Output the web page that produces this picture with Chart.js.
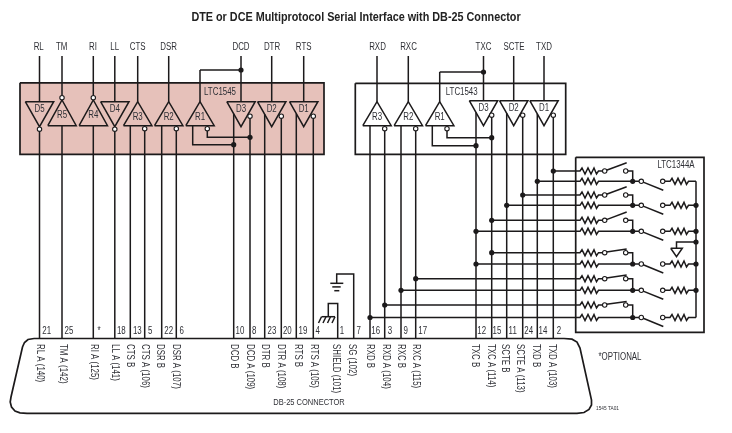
<!DOCTYPE html>
<html>
<head>
<meta charset="utf-8">
<title>DTE or DCE Multiprotocol Serial Interface with DB-25 Connector</title>
<script src="https://cdn.jsdelivr.net/npm/chart.js@4/dist/chart.umd.min.js"></script>
<style>
  html, body { margin: 0; padding: 0; background: #fff; }
  canvas { display: block; }
</style>
</head>
<body>
<canvas id="chart" width="732" height="433"></canvas>
<script>
// The schematic is plotted on a 732 x 433 linear grid, y running downward
const INK = '#1c1a1b';
const TEXT = '#2f3036';
const FONT = '"Liberation Sans", sans-serif';
const NARROW = 0.79;

// LTC1545 drivers and receivers
const drv45Names = ['D5', 'D4', 'D3', 'D2', 'D1'];
const drv45X = [39.5, 114.8, 241, 271.7, 303.7];
const drv45Out = [null, null, 233.7, 264.7, 296.3];
const drv45Bubble = [null, null, 250, 281.3, 313.3];
const rcv45Names = ['R3', 'R2', 'R1'];
const rcv45X = [137.7, 168.7, 200];
const rcv45Out = [130.3, 161.7, 192.7];
const rcv45Bubble = [144.7, 176.3, 207.3];
const inv45Names = ['R5', 'R4'];
const inv45X = [62, 93.3];

// LTC1543 drivers and receivers
const drv43Names = ['D3', 'D2', 'D1'];
const drv43X = [483.5, 513.7, 544];
const drv43Out = [476, 506.7, 537.3];
const drv43Bubble = [491.7, 522.7, 553.3];
const rcv43Names = ['R3', 'R2', 'R1'];
const rcv43X = [377, 408.3, 439.7];
const rcv43Out = [370, 401, 432.3];
const rcv43Bubble = [384.7, 415.7, 447];

// LTC1344A resistor and switch rows
const swRowY = [171, 195, 220.3, 252.7, 278.7, 305];
const linkRowY = [181.3, 205.3, 231.3, 264, 290.3, 317.5];
const swFeedX = [553.3, 522.7, 491.7, 491.7, 415.7, 384.7];
const linkFeedX = [537.3, 506.7, 476, 476, 401, 370];
const armLift = [8.3, 8.3, 8.3, 3.6, 3.6, 3.6];
const zigzag = [[0, 0], [2, -3], [5, 3], [8, -3], [11, 3], [14, -3], [16.5, 3], [18.5, 0]];

// Loose wires and junctions
const extraWires = [
  [[200, 70], [241, 70]],
  [[192.7, 126], [192.7, 144.7], [233.7, 144.7]],
  [[207.3, 131], [207.3, 137.3], [250, 137.3]],
  [[439.7, 72], [483.5, 72]],
  [[432.3, 126], [432.3, 145.7], [476, 145.7]],
  [[447, 131], [447, 137.7], [491.7, 137.7]],
  [[337.7, 338.5], [337.7, 303.5], [328.3, 303.5], [328.3, 316.7]],
  [[321.5, 316.7], [335, 316.7]],
  [[321.5, 316.7], [318.5, 323]],
  [[326, 316.7], [323, 323]],
  [[330.5, 316.7], [327.5, 323]],
  [[335, 316.7], [332, 323]],
  [[353.7, 338.5], [353.7, 274], [336.7, 274], [336.7, 283.3]],
  [[330.3, 283.3], [343.3, 283.3]],
  [[332.3, 286.9], [340.7, 286.9]],
  [[334.3, 290.7], [339.3, 290.7]],
  [[696, 181.3], [696, 317.5]],
  [[696, 242], [676.5, 242], [676.5, 248.3]],
  [[670.7, 248.3], [682.3, 248.3], [676.5, 256.7], [670.7, 248.3]]
];
const junctions = [
  [241, 70], [233.7, 144.7], [250, 137.3], [483.5, 72], [476, 145.7], [491.7, 137.7],
  [696, 205.3], [696, 231.3], [696, 242], [696, 264], [696, 290.3]
];

// Boxes: left, top, right, bottom
const box1545 = [20, 82.8, 324, 154.3];
const box1543 = [355.3, 83.3, 565.7, 154.3];
const box1344 = [575.7, 157.3, 704, 332.3];

// DB-25 shell outline
const shellOutline = [
  [34, 338.5], [28, 339.5], [24.5, 342.5], [22.5, 347], [11, 397], [10.2, 402], [11.5, 407], [15, 411],
  [20, 412.8], [27, 413.3], [577, 413.3], [584, 412.5], [589, 409.5], [591.5, 405], [591.5, 400],
  [580, 348], [577, 342], [572, 339.2], [564, 338.5], [34, 338.5]
];

// Text
const topNames = ['RL', 'TM', 'RI', 'LL', 'CTS', 'DSR', 'DCD', 'DTR', 'RTS', 'RXD', 'RXC', 'TXC', 'SCTE', 'TXD'];
const topNameX = [38.7, 61.7, 93, 114.7, 137.7, 168.7, 241, 272, 303.7, 377.5, 408.5, 483.5, 514, 544];
const pinNames = ['21', '25', '*', '18', '13', '5', '22', '6', '10', '8', '23', '20', '19', '4', '1', '7', '16', '3', '9', '17', '12', '15', '11', '24', '14', '2'];
const pinNameX = [46.7, 69, 99, 121.3, 137.3, 150.3, 168.7, 181.7, 240, 254.3, 272, 287.3, 303, 317.7, 342, 358.7, 375.7, 390, 405.7, 422.7, 481.7, 497, 512.7, 528.7, 543, 559];
const signalNames = ['RL A (140)', 'TM A (142)', 'RI A (125)', 'LL A (141)', 'CTS B', 'CTS A (106)', 'DSR B', 'DSR A (107)', 'DCD B', 'DCD A (109)', 'DTR B', 'DTR A (108)', 'RTS B', 'RTS A (105)', 'SHIELD (101)', 'SG (102)', 'RXD B', 'RXD A (104)', 'RXC B', 'RXC A (115)', 'TXC B', 'TXC A (114)', 'SCTE B', 'SCTE A (113)', 'TXD B', 'TXD A (103)'];
const signalNameX = [40, 62.7, 93.3, 114.3, 130, 145, 160, 176, 234, 249.3, 265, 280.7, 297.3, 314, 335.7, 351.7, 370, 385.3, 400.7, 415.7, 475, 490.7, 505, 520, 536, 551.7];

const datasets = [];
const dots = [];
const bubbles = [];
const labels = [];

function wire(points, extra) {
  datasets.push(Object.assign({
    data: points.map(p => ({ x: p[0], y: p[1] })),
    showLine: true,
    borderColor: INK,
    borderWidth: 1.5,
    pointRadius: 0,
    order: 2
  }, extra || {}));
}

function boxLines(b) {
  wire([[b[0], b[1]], [b[2], b[1]], [b[2], b[3]], [b[0], b[3]], [b[0], b[1]]], { borderWidth: 1.7 });
}

function addText(text, x, y, size, extra) {
  labels.push(Object.assign({ text, x, y, size }, extra || {}));
}

// Driver triangle points down, receiver triangle points up
function driver(name, x, top, outX, bubX) {
  wire([[x - 14.2, top], [x + 14.2, top], [x, top + 25], [x - 14.2, top]]);
  addText(name, x, top + 7.5, 10);
  if (outX != null) {
    wire([[outX, top + (outX - x + 14.2) * 1.76], [outX, 338.5]]);
    wire([[bubX, top + 15.5], [bubX, 338.5]]);
    bubbles.push([bubX, top + 14.5]);
  } else {
    wire([[x, top + 28], [x, 338.5]]);
    bubbles.push([x, top + 27.5]);
  }
}

function receiver(name, x, apex, base, outX, bubX) {
  wire([[x - 14.2, base], [x + 14.2, base], [x, apex], [x - 14.2, base]]);
  addText(name, x, apex + 15.5, 10);
  if (outX == null) {
    wire([[x, base], [x, 338.5]]);
    bubbles.push([x, apex - 2.3]);
    return;
  }
  bubbles.push([bubX, base + 3]);
  // R1 outputs are tied back to D3, they do not reach the connector
  if (name !== 'R1') {
    wire([[outX, base], [outX, 338.5]]);
    wire([[bubX, base + 5], [bubX, 338.5]]);
  }
}

// Boxes first: the pink one also gets a fill
wire([[box1545[0], box1545[1]], [box1545[2], box1545[1]]], {
  borderWidth: 0,
  fill: { value: box1545[3] },
  backgroundColor: '#e6c1ba',
  order: 9
});
boxLines(box1545);
boxLines(box1543);
boxLines(box1344);
wire(shellOutline, { borderWidth: 1.7 });

drv45Names.forEach((n, i) => driver(n, drv45X[i], 101.7, drv45Out[i], drv45Bubble[i]));
rcv45Names.forEach((n, i) => receiver(n, rcv45X[i], 101.7, 125.7, rcv45Out[i], rcv45Bubble[i]));
inv45Names.forEach((n, i) => receiver(n, inv45X[i], 100, 125.7, null, null));
drv43Names.forEach((n, i) => driver(n, drv43X[i], 100.7, drv43Out[i], drv43Bubble[i]));
rcv43Names.forEach((n, i) => receiver(n, rcv43X[i], 101.7, 125.7, rcv43Out[i], rcv43Bubble[i]));

// The top signal leads down into each gate
[39.5, 114.8, 137.7, 168.7, 241, 271.7, 303.7].forEach(x => wire([[x, 56], [x, 101.7]]));
[62, 93.3].forEach(x => wire([[x, 56], [x, 95.5]]));
wire([[200, 70], [200, 101.7]]);
[377, 408.3].forEach(x => wire([[x, 56], [x, 101.7]]));
[483.5, 513.7, 544].forEach(x => wire([[x, 56], [x, 100.7]]));
wire([[439.7, 72], [439.7, 101.7]]);

// Resistor and switch rows of the LTC1344A
function resistor(x, y) {
  return zigzag.map(p => [x + p[0], y + p[1]]);
}
swRowY.forEach((y, i) => {
  const ly = linkRowY[i];
  wire([[swFeedX[i], y], [580, y]].concat(resistor(580, y), [[602.5, y]]));
  bubbles.push([604.7, y], [625.7, y]);
  wire([[606.5, y - 0.7], [626.7, y - armLift[i]]]);
  wire([[628, y], [632.7, y], [632.7, ly]]);
  wire([[linkFeedX[i], ly], [580, ly]].concat(resistor(580, ly), [[639, ly]]));
  bubbles.push([641.3, ly], [662.7, ly]);
  wire([[643.2, ly + 0.8], [663.3, ly + 9]]);
  wire([[665, ly], [670, ly]].concat(resistor(670, ly), [[696, ly]]));
  dots.push([swFeedX[i], y], [linkFeedX[i], ly], [632.7, ly]);
});

extraWires.forEach(w => wire(w));
junctions.forEach(j => dots.push(j));

datasets.push({
  data: dots.map(p => ({ x: p[0], y: p[1] })),
  pointRadius: 2.6,
  pointBackgroundColor: INK,
  pointBorderWidth: 0,
  order: 1
});
datasets.push({
  data: bubbles.map(p => ({ x: p[0], y: p[1] })),
  pointRadius: 2.2,
  pointBackgroundColor: '#fff',
  pointBorderColor: INK,
  pointBorderWidth: 1.1,
  order: 0
});

topNames.forEach((n, i) => addText(n, topNameX[i], 47.7, 10));
pinNames.forEach((n, i) => addText(n, pinNameX[i], 331.7, 10));
signalNames.forEach((n, i) => addText(n, signalNameX[i], 344, 10, { rotate: true }));
addText('DTE or DCE Multiprotocol Serial Interface with DB-25 Connector', 356, 17, 13.7, { bold: true, color: '#222' });
addText('LTC1545', 220, 92.7, 10);
addText('LTC1543', 461.7, 92.5, 10);
addText('LTC1344A', 676, 165, 10);
addText('DB-25 CONNECTOR', 309, 402.5, 9.5);
addText('*OPTIONAL', 620, 357.5, 10);
addText('1545 TA01', 607.5, 408, 6);

// Text goes through the same scales as the wires
const textPlugin = {
  id: 'schematicText',
  afterDatasetsDraw(chart) {
    const ctx = chart.ctx;
    labels.forEach(l => {
      const px = chart.scales.x.getPixelForValue(l.x);
      const py = chart.scales.y.getPixelForValue(l.y);
      ctx.save();
      ctx.font = (l.bold ? 'bold ' : '') + l.size + 'px ' + FONT;
      ctx.fillStyle = l.color || TEXT;
      ctx.textBaseline = 'middle';
      ctx.translate(px, py);
      if (l.rotate) {
        ctx.rotate(Math.PI / 2);
        ctx.textAlign = 'left';
      } else {
        ctx.textAlign = 'center';
      }
      ctx.scale(NARROW, 1);
      ctx.fillText(l.text, 0, 0);
      ctx.restore();
    });
  }
};

new Chart(document.getElementById('chart'), {
  type: 'scatter',
  data: { datasets },
  options: {
    responsive: false,
    animation: false,
    events: [],
    layout: { padding: 0, autoPadding: false },
    plugins: { legend: { display: false }, tooltip: { enabled: false } },
    scales: {
      x: { type: 'linear', min: 0, max: 732, display: false },
      y: { type: 'linear', min: 0, max: 433, reverse: true, display: false }
    }
  },
  plugins: [textPlugin]
});
</script>
</body>
</html>
